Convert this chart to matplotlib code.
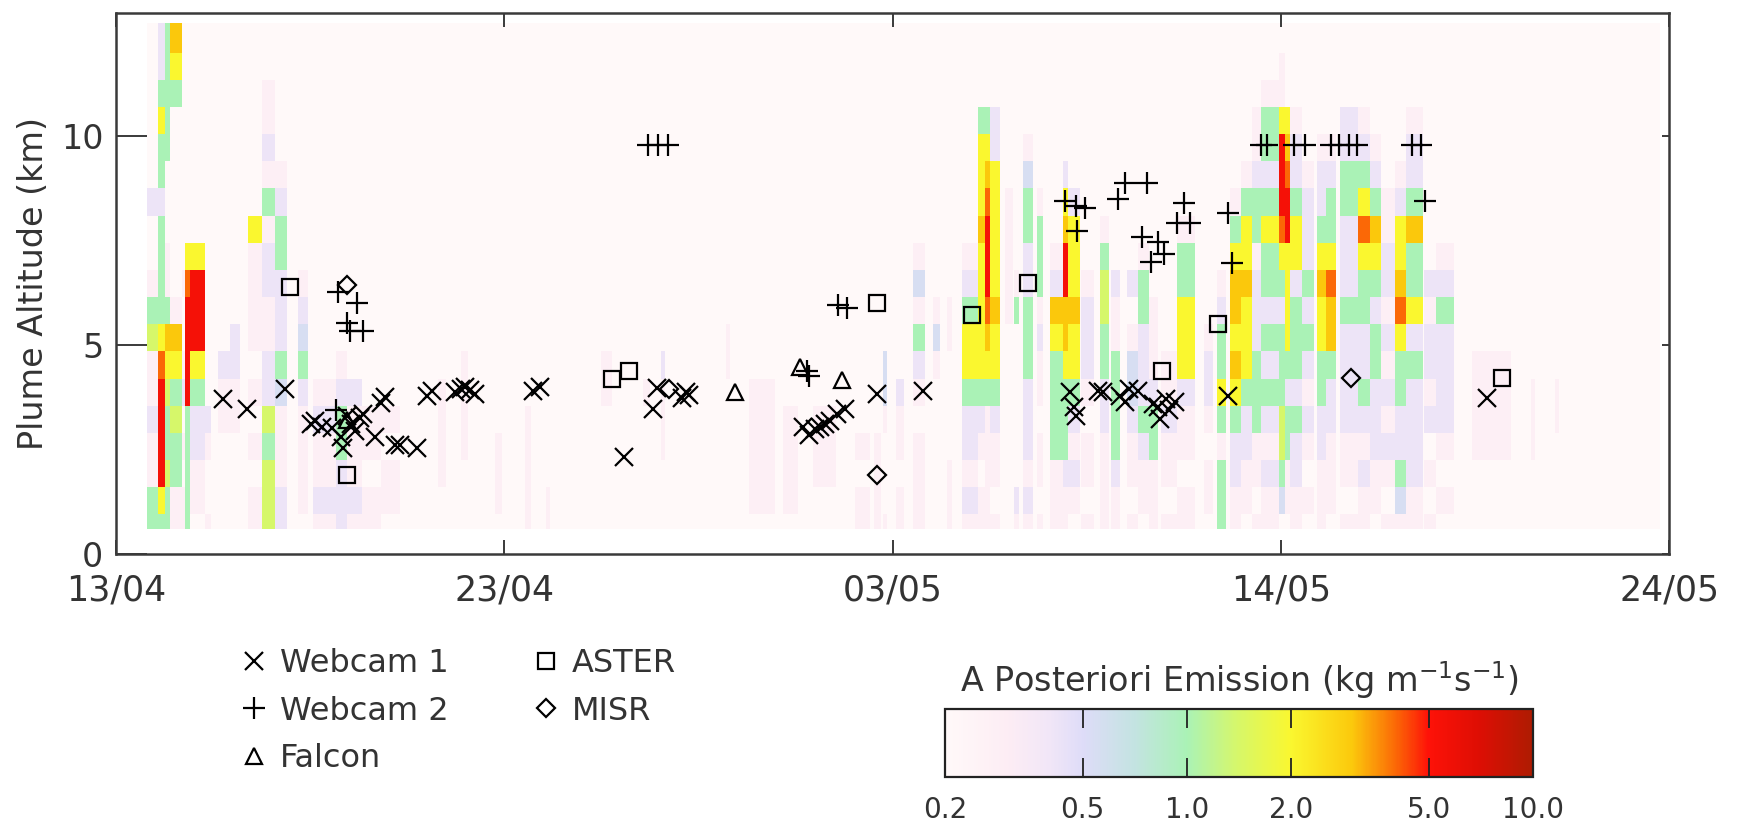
import numpy as np
import matplotlib
matplotlib.use("Agg")
import matplotlib.pyplot as plt
from matplotlib.colors import LinearSegmentedColormap, LogNorm

plt.rcParams['font.family'] = ['DejaVu Sans']
TEXT = '#333333'

# ---------------- axes ----------------
day_range = (0.0, 41.0)                     # days since 13/04 00 UTC
date_ticks = [0.0, 10.25, 20.5, 30.75, 41.0]
date_labels = ["13/04", "23/04", "03/05", "14/05", "24/05"]
alt_range = (0.0, 12.95)
alt_ticks = [0, 5, 10]

# ---------------- a posteriori emission field ----------------
grid_days = (0.82, 40.76)
alt_edges = [0.6, 0.95, 1.6, 2.25, 2.9, 3.55, 4.2, 4.85, 5.5, 6.15, 6.8,
             7.45, 8.1, 8.75, 9.4, 10.05, 10.7, 11.35, 12.0, 12.7]
# emission class codes (kg m-1 s-1)
level_codes = {'.': 0.2, 'p': 0.28, 'l': 0.42, 'b': 0.55, 'g': 1.0, 'h': 1.4,
               'y': 2.0, 'o': 3.0, 'O': 4.0, 'r': 5.5}
# (start day, end day, vertical profile from the lowest level upwards)
emission_strips = [
    (0.82, 1.12, "ggpplpphgp..l......"),
    (1.12, 1.30, "gyrrrrOygggglggygll"),
    (1.30, 1.43, "gghgghyogpp...ggggg"),
    (1.43, 1.73, "ppgghgyop.......gyo"),
    (1.73, 1.82, "pp.p.lp..p........."),
    (1.82, 1.95, "gggggrrrrOy........"),
    (1.95, 2.35, ".ppllgyrrry........"),
    (2.35, 2.50, "p..pl.............."),
    (2.70, 3.01, "....ppl............"),
    (3.01, 3.27, "....ppll..........."),
    (3.49, 3.85, "pp.p.p.ppppy......."),
    (3.85, 4.20, "hhhghllppllpgplpp.."),
    (4.20, 4.51, "llpppbglllgglp....."),
    (4.81, 5.08, ".pppplgblp........."),
    (5.20, 5.80, "plpplp............."),
    (5.82, 6.09, "lllgglp............"),
    (6.10, 6.50, "plpppl............."),
    (6.50, 7.00, "pp.pp.............."),
    (7.00, 7.50, ".pp.p.............."),
    (8.50, 8.70, "..pppp............."),
    (9.10, 9.30, "...pppp............"),
    (10.00, 10.20, ".ppp..............."),
    (10.80, 10.95, "ppppp.............."),
    (11.35, 11.45, "pp................."),
    (12.80, 13.10, ".....pp............"),
    (13.90, 14.10, ".....p............."),
    (14.40, 14.50, "...pppl............"),
    (16.10, 16.20, "......pp..........."),
    (16.70, 17.40, ".ppppp............."),
    (17.60, 18.00, ".pppp.............."),
    (18.40, 19.00, "..ppp.............."),
    (19.50, 19.90, "pp.p..............."),
    (20.00, 20.20, "pppp..............."),
    (20.25, 20.35, "p...pbb............"),
    (20.60, 20.80, "pp.ppl............."),
    (21.05, 21.36, "pppp.plgpbp........"),
    (21.58, 21.76, "......pbp.........."),
    (21.93, 22.06, "ppp....pp.........."),
    (22.33, 22.75, "plpllgyyglp........"),
    (22.75, 22.94, "pp.plgyyyyyoyyyg..."),
    (22.94, 23.07, "pppppgyoOrrrOoyg..."),
    (23.07, 23.33, "p.pplgyyoyyyyyll..."),
    (23.47, 23.69, "........ppppp......"),
    (23.72, 23.85, "pl......gp........."),
    (23.95, 24.22, "plplllgggllggbp...."),
    (24.31, 24.48, "p.pp.pplpgggp......"),
    (24.66, 25.00, "pppggggyolp........"),
    (25.00, 25.125, "pplgggyoorroyl....."),
    (25.125, 25.45, ".plplgyyoyyyl......"),
    (25.47, 25.82, "p.pp.plllp........."),
    (25.99, 26.22, "ppppllgghhgp......."),
    (26.28, 26.51, "pplggggppl........."),
    (26.69, 26.98, "p.pplbbp.l........."),
    (26.98, 27.27, ".pplglllggp........"),
    (27.27, 27.50, "pppgglppp.........."),
    (27.60, 28.00, "p.pplpp............"),
    (28.02, 28.48, "pp.pplyyyggp......."),
    (28.72, 28.95, ".pp.pllp..........."),
    (29.06, 29.30, "gggpgygglp........."),
    (29.41, 29.70, "ppllgyoyooygp......"),
    (29.70, 30.00, ".ppllgyyyoyygp....."),
    (30.00, 30.23, "p.ppggglllpgglpp..."),
    (30.23, 30.70, "pplplglglggyglggp.."),
    (30.70, 30.85, ".bghhggglgyOrrrypp."),
    (30.85, 31.00, ".ppgglgyyyyrrOoy..."),
    (31.00, 31.30, "ppllglggglyygllp..."),
    (31.30, 31.62, ".p.plplglglllp....."),
    (31.70, 31.95, "pppllggyyoygllp...."),
    (31.95, 32.20, ".pppllgooOygglp...."),
    (32.31, 32.78, "p.ppllllglllggll..."),
    (32.80, 33.10, "pplplgllggyOyglp..."),
    (33.10, 33.40, ".pplllgglgyoglp...."),
    (33.40, 33.76, "p.plplplpllpp......"),
    (33.76, 34.05, "pbgllggyOoyylp....."),
    (34.05, 34.50, "ppllllglyggogllp..."),
    (34.52, 34.86, "p.p.lpllpl........."),
    (34.86, 35.33, ".p.pllllglp........"),
    (35.79, 36.84, "...pppp............"),
    (37.35, 37.45, "...ppp............."),
    (38.00, 38.10, "....pp............."),
]

# ---------------- plume height observations (day, km) ----------------
webcam1_day = [2.83, 3.45, 4.46, 5.15, 5.25, 5.45, 5.70, 5.95, 6.00, 6.10, 6.20,
               6.30, 6.45, 6.53, 6.84, 7.00, 7.10, 7.36, 7.50, 7.94, 8.20, 8.33,
               8.95, 9.10, 9.22, 9.35, 9.48, 11.02, 11.20, 13.42, 14.19, 14.27,
               14.95, 15.05, 15.12, 18.14, 18.30, 18.45, 18.59, 18.72, 18.85,
               19.03, 19.25, 20.08, 21.31, 25.18, 25.29, 25.35, 25.93, 26.05,
               26.51, 26.63, 26.74, 26.97, 27.38, 27.50, 27.56, 27.73, 27.79,
               27.96, 29.35, 36.20]
webcam1_alt = [3.70, 3.48, 3.94, 3.10, 3.18, 3.05, 3.02, 2.80, 2.54, 3.30, 3.10,
               2.95, 3.25, 3.35, 2.80, 3.62, 3.75, 2.62, 2.60, 2.54, 3.78, 3.90,
               3.87, 3.95, 4.00, 3.93, 3.83, 3.90, 4.00, 2.32, 3.48, 3.98,
               3.74, 3.88, 3.80, 3.05, 2.84, 3.00, 3.05, 3.12, 3.18,
               3.35, 3.48, 3.83, 3.91, 3.87, 3.53, 3.31, 3.91, 3.87,
               3.78, 3.65, 3.95, 3.91, 3.60, 3.52, 3.22, 3.70, 3.44,
               3.65, 3.78, 3.74]

webcam2_day = [5.80, 5.87, 6.35, 6.09, 6.18, 6.53, 14.05, 14.32, 14.58, 18.24,
               18.30, 19.07, 19.29, 25.06, 25.35, 25.58, 25.36, 26.45, 26.63,
               27.21, 27.10, 27.50, 27.67, 27.33, 28.19, 28.02, 28.36, 29.35,
               29.47, 30.23, 30.40, 31.09, 31.38, 32.07, 32.30, 32.54, 32.77,
               34.22, 34.45, 34.57]
webcam2_alt = [3.45, 6.27, 6.00, 5.54, 5.33, 5.33, 9.80, 9.80, 9.80, 4.38,
               4.25, 5.97, 5.88, 8.46, 8.33, 8.28, 7.73, 8.50, 8.89,
               8.89, 7.60, 7.47, 7.17, 7.00, 8.41, 7.92, 7.92, 8.16,
               6.96, 9.80, 9.80, 9.80, 9.80, 9.80, 9.80, 9.80, 9.80,
               9.80, 9.80, 8.46]

falcon_day = [6.10, 16.34, 18.06, 19.16]
falcon_alt = [3.20, 3.87, 4.47, 4.17]

aster_day = [4.59, 6.09, 13.10, 13.55, 20.08, 22.59, 24.08, 27.62, 29.10, 36.60]
aster_alt = [6.40, 1.90, 4.20, 4.38, 6.01, 5.71, 6.48, 4.38, 5.50, 4.21]

misr_day = [6.09, 14.60, 20.08, 32.60]
misr_alt = [6.44, 3.95, 1.90, 4.21]

# ---------------- colour scale ----------------
cbar_ticks = [0.2, 0.5, 1.0, 2.0, 5.0, 10.0]
cbar_ticklabels = ["0.2", "0.5", "1.0", "2.0", "5.0", "10.0"]
vmin, vmax = 0.2, 10.0
colour_nodes = [(0.2, '#FFF9F9'), (0.3, '#FDEDF4'), (0.4, '#F1E6F7'),
                (0.5, '#DEDCF8'), (0.7, '#C4E3E2'), (1.0, '#AAF2B6'),
                (1.4, '#D6F76A'), (2.0, '#FAF72F'), (3.0, '#FBC90C'),
                (4.0, '#FB6A06'), (5.0, '#FE1208'), (7.0, '#DE0E04'),
                (10.0, '#AE1C02')]


def log_pos(v):
    return (np.log10(v) - np.log10(vmin)) / (np.log10(vmax) - np.log10(vmin))


cmap = LinearSegmentedColormap.from_list(
    'emission', [(log_pos(v), c) for v, c in colour_nodes], N=512)
norm = LogNorm(vmin=vmin, vmax=vmax)

# build the gridded field from the strips
n_lev = len(alt_edges) - 1
bounds = {grid_days[0], grid_days[1]}
for d0, d1, _ in emission_strips:
    bounds.update([d0, d1])
x_edges = np.array(sorted(bounds))
field = np.full((n_lev, len(x_edges) - 1), level_codes['.'])
for j in range(len(x_edges) - 1):
    mid = 0.5 * (x_edges[j] + x_edges[j + 1])
    for d0, d1, prof in emission_strips:
        if d0 <= mid < d1:
            prof = prof.ljust(n_lev, '.')[:n_lev]
            field[:, j] = [level_codes[c] for c in prof]

# ---------------- figure ----------------
W, H = 1738, 826
fig = plt.figure(figsize=(W / 100, H / 100), dpi=100)


def frac(l, t, r, b):
    return [l / W, 1 - b / H, (r - l) / W, (b - t) / H]


ax = fig.add_axes(frac(116, 13, 1669, 554))
ax.pcolormesh(x_edges, alt_edges, field, cmap=cmap, norm=norm,
              shading='flat', linewidth=0, antialiased=False, zorder=1)

mk = dict(linestyle='none', color='black', mfc='none', mew=1.6, zorder=3)
h1, = ax.plot(webcam1_day, webcam1_alt, marker='x', ms=13, label='Webcam 1', **mk)
h2, = ax.plot(webcam2_day, webcam2_alt, marker='+', ms=16, label='Webcam 2', **mk)
h3, = ax.plot(falcon_day, falcon_alt, marker='^', ms=12, label='Falcon', **mk)
h4, = ax.plot(aster_day, aster_alt, marker='s', ms=12, label='ASTER', **mk)
h5, = ax.plot(misr_day, misr_alt, marker='D', ms=9, label='MISR', **mk)

ax.set_xlim(*day_range)
ax.set_ylim(*alt_range)
ax.set_xticks(date_ticks)
ax.set_xticklabels(date_labels)
ax.set_yticks(alt_ticks)
for s in ax.spines.values():
    s.set_color('#3a3a3a')
    s.set_linewidth(1.8)
ax.tick_params(axis='x', direction='in', length=10, width=1.4, top=True,
               bottom=True, labelsize=25, pad=14, colors='#3a3a3a',
               labelcolor=TEXT)
ax.tick_params(axis='y', direction='in', length=22, width=1.4, left=True,
               right=False, labelsize=24, pad=9, colors='#3a3a3a',
               labelcolor=TEXT)
sec = ax.secondary_yaxis('right')
sec.set_yticks(alt_ticks)
sec.tick_params(direction='in', length=5, width=1.4, labelright=False,
                colors='#3a3a3a')
sec.spines['right'].set_visible(False)
ax.set_ylabel('Plume Altitude (km)', fontsize=24, color=TEXT, labelpad=8)

# legend
fig.legend(handles=[h1, h2, h3, h4, h5], ncol=2, loc='upper left',
           bbox_to_anchor=(240 / W, 1 - 648 / H), frameon=False,
           fontsize=23, labelcolor=TEXT, handlelength=0.9,
           handletextpad=0.35, labelspacing=0.52, columnspacing=2.6,
           borderaxespad=0, borderpad=0)

# colour bar
cax = fig.add_axes(frac(945, 709, 1533, 777))
cb = fig.colorbar(plt.cm.ScalarMappable(norm=norm, cmap=cmap), cax=cax,
                  orientation='horizontal', ticks=cbar_ticks)
cb.minorticks_off()
cb.set_ticklabels(cbar_ticklabels)
cb.outline.set_linewidth(1.6)
cb.outline.set_edgecolor('#222222')
cax.tick_params(axis='x', direction='in', length=14, width=1.3, top=True,
                bottom=True, labelsize=20, pad=14, colors='#222222',
                labelcolor=TEXT)
cax.set_title(r'A Posteriori Emission (kg m$^{-1}$s$^{-1}$)', fontsize=24,
              color=TEXT, pad=12)

fig.savefig('out.png', dpi=100, facecolor='white')
